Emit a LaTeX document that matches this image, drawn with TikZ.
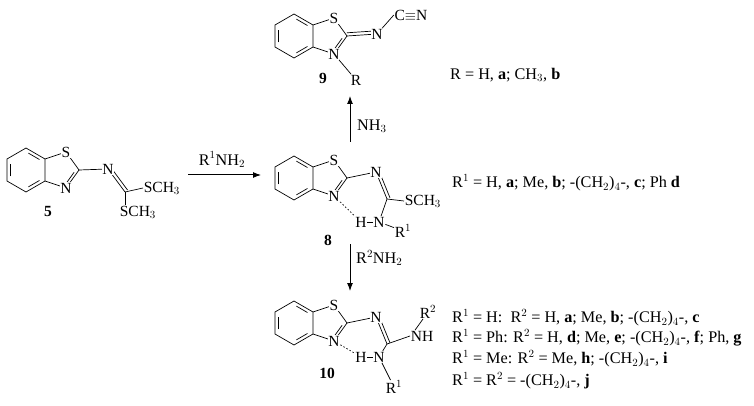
\documentclass[tikz,border=0pt]{standalone}
\usepackage{fontspec}
\setmainfont{Liberation Serif}
\usetikzlibrary{calc,arrows.meta}
\tikzset{
  atm/.style={fill=white,inner sep=0.6pt,font=\fontsize{15.5}{17}\selectfont},
  txt/.style={inner sep=0pt,anchor=west,font=\fontsize{16.2}{18}\selectfont},
  cpd/.style={inner sep=0pt,font=\fontsize{15.5}{17}\selectfont\bfseries},
  bond/.style={line width=0.7pt},
  hb/.style={line width=0.7pt,dash pattern=on 1.5pt off 2pt},
  rxn/.style={line width=1pt,-{Latex[length=8pt,width=6pt]}}
}
\newcommand{\dbl}[3]{\draw[bond] ($($(#1)!0.17!(#3)$)!0.15!($(#2)!0.17!(#3)$)$) -- ($($(#2)!0.17!(#3)$)!0.15!($(#1)!0.17!(#3)$)$);}
\newcommand{\pdbl}[2]{\draw[bond] ($(#1)!3.2pt!90:(#2)$) -- ($(#2)!3.2pt!-90:(#1)$);}
% benzothiazole: #1 prefix, #2 centre
\newcommand{\btz}[2]{%
  \coordinate (#1o) at #2;
  \coordinate (#1a) at ($(#1o)+(0,-22)$);
  \coordinate (#1b) at ($(#1o)+(19,-11)$);
  \coordinate (#1c) at ($(#1o)+(19,11)$);
  \coordinate (#1d) at ($(#1o)+(0,22)$);
  \coordinate (#1e) at ($(#1o)+(-19,11)$);
  \coordinate (#1f) at ($(#1o)+(-19,-11)$);
  \coordinate (#1p) at ($(#1o)+(34,0)$);
  \coordinate (#1S) at ($(#1o)+(40,-18)$);
  \coordinate (#1C) at ($(#1o)+(53,0)$);
  \coordinate (#1N) at ($(#1o)+(40,18)$);
  \draw[bond] (#1a)--(#1b)--(#1c)--(#1d)--(#1e)--(#1f)--cycle;
  \draw[bond] (#1b)--(#1S)--(#1C)--(#1N)--(#1c);
  \dbl{#1e}{#1f}{#1o}\dbl{#1a}{#1b}{#1o}\dbl{#1c}{#1d}{#1o}
  \dbl{#1C}{#1N}{#1p}
}
\begin{document}
\begin{tikzpicture}[x=1pt,y=-1pt]
\useasboundingbox (0,0) rectangle (754,406);
% ---- 5
\btz{m5}{(26,170)}
\coordinate (m5x) at (108,169);
\coordinate (m5y) at (125,192);
\draw[bond] (m5C)--(m5x)--(m5y);
\pdbl{m5x}{m5y}
\node[atm] (m5S) at (m5S) {S};
\node[atm] (m5N) at (m5N) {N};
\node[atm] (m5Nx) at (m5x) {N};
\node[atm,anchor=west] (m5s1) at (143,188) {SCH$_3$};
\node[atm,anchor=west] (m5s2) at (119,212) {SCH$_3$};
\draw[bond] (m5y)--(m5s1.west);
\draw[bond] (m5y)--(m5s2.north-|m5y);
\node[cpd] (l5) at (48,212) {5};
% ---- 9
\btz{m9}{(294,36)}
\coordinate (m9x) at (377,34);
\draw[bond] (m9C)--(m9x);
\pdbl{m9C}{m9x}
\node[atm] (m9S) at (m9S) {S};
\node[atm] (m9N) at (m9N) {N};
\node[atm] (m9Nx) at (m9x) {N};
\node[atm] (m9cn) at (411,15) {C$\equiv$N};
\draw[bond] (m9Nx)--(m9cn.west);
\node[atm] (m9R) at (356,80) {R};
\draw[bond] (m9N)--(m9R);
\node[cpd] (l9) at (323,78) {9};
% ---- 8
\btz{m8}{(294,178)}
\coordinate (m8x) at (376,172);
\coordinate (m8y) at (387,199);
\draw[bond] (m8C)--(m8x)--(m8y);
\pdbl{m8x}{m8y}
\node[atm] (m8S) at (m8S) {S};
\node[atm] (m8N) at (m8N) {N};
\node[atm] (m8Nx) at (m8x) {N};
\node[atm,anchor=west] (m8s) at (404,201) {SCH$_3$};
\draw[bond] (m8y)--(m8s.west);
\node[atm] (m8H) at (361,222) {H};
\node[atm] (m8NH) at (379,222) {N};
\draw[bond] (m8H)--(m8NH);
\draw[bond] (m8NH)--(m8y);
\node[atm] (m8R) at (403,231) {R$^1$};
\draw[bond] (m8NH)--(m8R);
\draw[hb] (m8N)--(m8H);
\node[cpd] (l8) at (328,240) {8};
% ---- 10
\btz{m10}{(294,323)}
\coordinate (m10x) at (376,317);
\coordinate (m10y) at (387,344);
\draw[bond] (m10C)--(m10x)--(m10y);
\pdbl{m10x}{m10y}
\node[atm] (m10S) at (m10S) {S};
\node[atm] (m10N) at (m10N) {N};
\node[atm] (m10Nx) at (m10x) {N};
\node[atm] (m10nh) at (422,336) {NH};
\draw[bond] (m10y)--(m10nh.west);
\node[atm] (m10R2) at (428,312) {R$^2$};
\draw[bond] ($(m10nh.north west)+(5,0)$) -- (m10R2);
\node[atm] (m10H) at (361,357) {H};
\node[atm] (m10NH) at (379,357) {N};
\draw[bond] (m10H)--(m10NH);
\draw[bond] (m10NH)--(m10y);
\node[atm] (m10R) at (394,387) {R$^1$};
\draw[bond] (m10NH)--(m10R);
\draw[hb] (m10N)--(m10H);
\node[cpd] (l10) at (327,373) {10};
% ---- arrows
\coordinate (a1s) at (188,175); \coordinate (a1e) at (261,175);
\draw[rxn] (a1s)--(a1e);
\node[txt,anchor=south] (a1l) at (222,168) {R$^1$NH$_2$};
\coordinate (a2s) at (350,142); \coordinate (a2e) at (350,96);
\draw[rxn] (a2s)--(a2e);
\node[txt] (a2l) at (357,126) {NH$_3$};
\coordinate (a3s) at (350,244); \coordinate (a3e) at (350,291);
\draw[rxn] (a3s)--(a3e);
\node[txt] (a3l) at (356,258) {R$^2$NH$_2$};
% ---- legends
\node[txt] (t9) at (450,75) {R = H, \textbf{a}; CH$_3$, \textbf{b}};
\node[txt] (t8) at (452,183) {R$^1$ = H, \textbf{a}; Me, \textbf{b}; -(CH$_2$)$_4$-, \textbf{c}; Ph \textbf{d}};
\node[txt] (t10a) at (452,318) {R$^1$ = H:\ \ R$^2$ = H, \textbf{a}; Me, \textbf{b}; -(CH$_2$)$_4$-, \textbf{c}};
\node[txt] (t10b) at (452,338) {R$^1$ = Ph: R$^2$ = H, \textbf{d}; Me, \textbf{e}; -(CH$_2$)$_4$-, \textbf{f}; Ph, \textbf{g}};
\node[txt] (t10c) at (452,359) {R$^1$ = Me: R$^2$ = Me, \textbf{h}; -(CH$_2$)$_4$-, \textbf{i}};
\node[txt] (t10d) at (452,381) {R$^1$ = R$^2$ = -(CH$_2$)$_4$-, \textbf{j}};
\end{tikzpicture}
\end{document}
